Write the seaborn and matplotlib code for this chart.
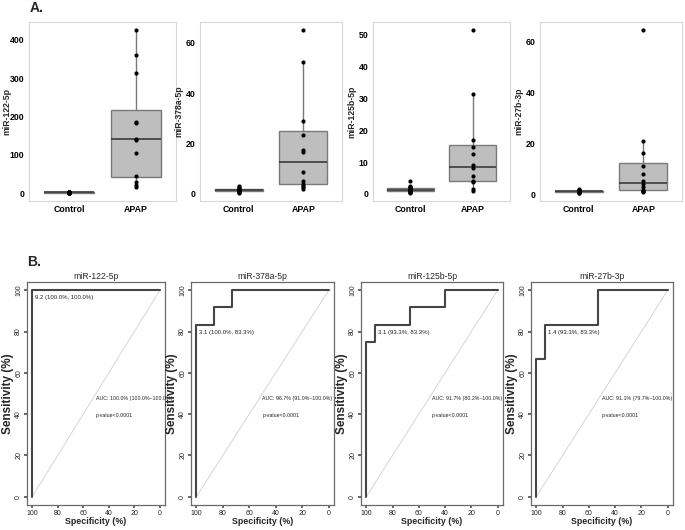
import numpy as np
import pandas as pd
import matplotlib
matplotlib.use("Agg")
import matplotlib.pyplot as plt
import seaborn as sns

sns.set_theme(style="white")
plt.rcParams['font.family'] = ['Liberation Sans', 'DejaVu Sans']

# ---------------- data ----------------
mirnas = ["miR-122-5p", "miR-378a-5p", "miR-125b-5p", "miR-27b-3p"]
groups = ["Control", "APAP"]

control_122 = [0.5, 0.8, 1.0, 1.1, 1.2, 1.3, 1.5, 1.6, 1.8, 2.0, 2.2, 2.5, 2.8, 3.0, 3.2]
apap_122 = [15, 20, 28, 45, 105, 139, 141, 182, 185, 313, 360, 425]
control_378 = [0.3, 0.5, 0.7, 0.8, 0.9, 1.0, 1.2, 1.3, 1.4, 1.6, 1.7, 1.9, 2.3, 2.8, 3.1]
apap_378 = [2, 2.5, 3, 4, 5, 8.5, 16.5, 17.5, 23.5, 29, 52.5, 65]
control_125 = [0.3, 0.5, 0.6, 0.7, 0.8, 1.0, 1.1, 1.2, 1.4, 1.6, 1.8, 2.0, 2.2, 2.6, 4.0]
apap_125 = [0.8, 1.5, 3.8, 4, 5.5, 8, 9, 12.5, 14.7, 17, 31.5, 51.5]
control_27 = [0.5, 0.6, 0.7, 0.8, 0.9, 1.0, 1.0, 1.1, 1.1, 1.2, 1.3, 1.4, 1.5, 1.7, 2.0]
apap_27 = [1.0, 1.2, 1.3, 1.6, 3.0, 3.8, 5.3, 8, 11, 16.3, 20.8, 64.5]

controls = [control_122, control_378, control_125, control_27]
apaps = [apap_122, apap_378, apap_125, apap_27]
yticks_top = [[0, 100, 200, 300, 400], [0, 20, 40, 60], [0, 10, 20, 30, 40, 50], [0, 20, 40, 60]]

# ROC curves (specificity %, sensitivity %)
spec_122 = [100, 100, 0]
sens_122 = [0, 100, 100]
spec_378 = [100, 100, 86.7, 86.7, 73.3, 73.3, 0]
sens_378 = [0, 83.3, 83.3, 91.7, 91.7, 100, 100]
spec_125 = [100, 100, 93.3, 93.3, 66.7, 66.7, 40, 40, 0]
sens_125 = [0, 75, 75, 83.3, 83.3, 91.7, 91.7, 100, 100]
spec_27 = [100, 100, 93.3, 93.3, 53.3, 53.3, 0]
sens_27 = [0, 66.7, 66.7, 83.3, 83.3, 100, 100]
specs = [spec_122, spec_378, spec_125, spec_27]
senss = [sens_122, sens_378, sens_125, sens_27]

thr_labels = ["9.2 (100.0%, 100.0%)", "3.1 (100.0%, 83.3%)", "3.1 (93.3%, 83.3%)", "1.4 (93.3%, 83.3%)"]
thr_spec = [100, 100, 93.3, 93.3]
thr_sens = [100, 83.3, 83.3, 83.3]
auc_labels = ["AUC: 100.0% (100.0%\u2013100.0%)", "AUC: 96.7% (91.0%\u2013100.0%)",
              "AUC: 91.7% (80.2%\u2013100.0%)", "AUC: 91.1% (79.7%\u2013100.0%)"]
p_label = "p-value<0.0001"

# ---------------- figure ----------------
W, H = 685, 530
fig = plt.figure(figsize=(W / 100, H / 100), dpi=100)
fig.patch.set_facecolor("white")

def rect(x0, x1, y0, y1):
    return [x0 / W, 1 - y1 / H, (x1 - x0) / W, (y1 - y0) / H]

top_px = [(29, 176), (200, 342), (373, 510), (540, 682)]
bot_px = [(27, 165), (191, 334), (361, 503), (531, 673)]

for i in range(4):
    ax = fig.add_axes(rect(top_px[i][0], top_px[i][1], 22, 201))
    df = pd.DataFrame({
        "group": ["Control"] * len(controls[i]) + ["APAP"] * len(apaps[i]),
        "value": controls[i] + apaps[i],
    })
    sns.boxplot(data=df, x="group", y="value", order=groups, ax=ax, width=0.75,
                color="#BEBEBE", linecolor="#7A7A7A", linewidth=1.0, showfliers=False,
                showcaps=False, medianprops=dict(color="#3A3A3A", linewidth=1.2),
                saturation=1)
    sns.stripplot(data=df, x="group", y="value", order=groups, ax=ax, jitter=False,
                  color="black", size=3.0, zorder=5)
    ax.set_xlim(-0.6, 1.6)
    ax.set_yticks(yticks_top[i])
    ax.set_xlabel("")
    ax.set_ylabel(mirnas[i], fontsize=6.2, fontweight="bold", labelpad=1.5)
    if i == 0:
        # keep the first label inside the figure: right edge at fixed pixel position
        ax.yaxis.set_label_coords(-18 / (top_px[0][1] - top_px[0][0]), 0.5)
    for s in ax.spines.values():
        s.set_color("#D8D8D8")
        s.set_linewidth(0.8)
    ax.tick_params(axis="both", length=2, color="#9A9A9A", pad=1.2, labelsize=6.3)
    for lab in ax.get_xticklabels() + ax.get_yticklabels():
        lab.set_fontweight("bold")
        lab.set_color("black")
    ax.grid(False)

fig.text(30 / W, 1 - 8 / H, "A.", fontsize=10, fontweight="bold", va="center", ha="left")
fig.text(27 / W, 1 - 262 / H, "B.", fontsize=10, fontweight="bold", va="center", ha="left")

for i in range(4):
    ax = fig.add_axes(rect(bot_px[i][0], bot_px[i][1], 282, 505))
    sns.lineplot(x=[100, 0], y=[0, 100], ax=ax, color="#D6D6D6", linewidth=0.7)
    sns.lineplot(x=specs[i], y=senss[i], ax=ax, sort=False, estimator=None,
                 color="#454545", linewidth=1.5)
    ax.set_xlim(104, -4)
    ax.set_ylim(-4, 104)
    ax.set_xticks([100, 80, 60, 40, 20, 0])
    ax.set_yticks([0, 20, 40, 60, 80, 100])
    for s in ax.spines.values():
        s.set_color("#6A6A6A")
        s.set_linewidth(0.9)
    ax.tick_params(axis="both", length=2.5, color="#555555", pad=1.0, labelsize=5.0,
                   direction="out", bottom=True, left=True)
    for lab in ax.get_yticklabels():
        lab.set_rotation(90)
        lab.set_va("center")
    ax.set_xlabel("Specificity (%)", fontsize=6.4, fontweight="bold", labelpad=0)
    ax.set_ylabel("Sensitivity (%)", fontsize=8.5, fontweight="bold", labelpad=1)
    ax.set_title(mirnas[i], fontsize=6.2, pad=2)
    ax.text(thr_spec[i] - 2, thr_sens[i] - 2.5, thr_labels[i], fontsize=4.3,
            ha="left", va="top", color="#222222")
    ax.text(50, 47.5, auc_labels[i], fontsize=3.8, ha="left",
            va="center", color="#222222")
    ax.text(50, 39.5, p_label, fontsize=3.8, ha="left",
            va="center", color="#222222")
    ax.grid(False)

fig.savefig("out.png", dpi=100, facecolor="white")
